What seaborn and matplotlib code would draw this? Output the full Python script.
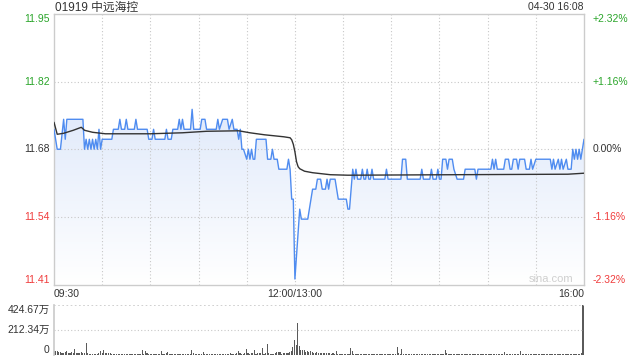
import numpy as np
import pandas as pd
import matplotlib
matplotlib.use("Agg")
import matplotlib.pyplot as plt
import seaborn as sns
from matplotlib.colors import LinearSegmentedColormap

sns.set_theme(style="white")
plt.rcParams["font.family"] = ["Liberation Sans", "Noto Sans CJK SC", "DejaVu Sans"]

# ---------------- data ----------------
title = "01919 中远海控"
stamp = "04-30 16:08"
prev_close = 11.68
range_pct = 2.32

price_t = [0, 2, 4, 6, 7, 8, 18, 19, 20, 21, 22, 23, 24, 25, 26, 27, 28, 29, 30, 36,
           37, 40, 41, 42, 44, 45, 46, 50, 51, 52, 58, 59, 61, 62, 63, 69, 70, 71, 73, 74,
           77, 78, 79, 80, 81, 85, 86, 87, 91, 92, 94, 95, 101, 102, 103, 105, 108, 109, 111, 112,
           114, 115, 116, 117, 118, 120, 121, 122, 123, 124, 125, 126, 132, 133, 135, 136, 137, 139, 140, 145,
           146, 147, 148, 149, 150, 153, 154, 158, 161, 163, 164, 166, 167, 169, 170, 171, 172, 175, 177, 182,
           183, 184, 185, 186, 187, 188, 189, 191, 192, 193, 194, 195, 196, 197, 198, 199, 206, 207, 208, 216,
           217, 219, 220, 228, 229, 230, 234, 235, 236, 238, 239, 240, 241, 242, 244, 245, 246, 248, 249, 251,
           255, 256, 262, 263, 264, 272, 273, 274, 275, 276, 280, 281, 283, 284, 285, 286, 288, 289, 290, 293,
           294, 296, 297, 298, 300, 309, 310, 311, 312, 314, 315, 316, 317, 319, 320, 322, 323, 324, 325, 326,
           327, 328, 329, 330]
price_v = [11.72, 11.68, 11.68, 11.74, 11.70, 11.74, 11.74, 11.68, 11.70, 11.68, 11.70, 11.68, 11.70, 11.68, 11.70, 11.68, 11.72, 11.68, 11.70, 11.70,
           11.72, 11.72, 11.74, 11.72, 11.72, 11.74, 11.72, 11.72, 11.74, 11.72, 11.72, 11.70, 11.70, 11.72, 11.70, 11.70, 11.72, 11.70, 11.70, 11.72,
           11.72, 11.74, 11.72, 11.74, 11.72, 11.72, 11.76, 11.72, 11.72, 11.74, 11.74, 11.72, 11.72, 11.74, 11.72, 11.74, 11.74, 11.72, 11.74, 11.72,
           11.72, 11.70, 11.72, 11.68, 11.68, 11.66, 11.68, 11.66, 11.68, 11.66, 11.66, 11.70, 11.70, 11.66, 11.66, 11.68, 11.66, 11.66, 11.64, 11.64,
           11.66, 11.64, 11.58, 11.58, 11.42, 11.56, 11.54, 11.54, 11.60, 11.60, 11.62, 11.62, 11.60, 11.60, 11.62, 11.60, 11.62, 11.62, 11.58, 11.58,
           11.56, 11.56, 11.60, 11.64, 11.62, 11.64, 11.62, 11.62, 11.64, 11.62, 11.62, 11.64, 11.62, 11.62, 11.64, 11.62, 11.62, 11.64, 11.62, 11.62,
           11.66, 11.66, 11.62, 11.62, 11.64, 11.62, 11.62, 11.64, 11.62, 11.62, 11.64, 11.62, 11.62, 11.66, 11.66, 11.64, 11.66, 11.66, 11.64, 11.62,
           11.62, 11.64, 11.64, 11.62, 11.64, 11.64, 11.66, 11.64, 11.66, 11.64, 11.64, 11.66, 11.66, 11.64, 11.64, 11.66, 11.66, 11.64, 11.66, 11.66,
           11.64, 11.64, 11.66, 11.64, 11.66, 11.66, 11.64, 11.66, 11.64, 11.66, 11.64, 11.66, 11.64, 11.66, 11.64, 11.64, 11.68, 11.66, 11.68, 11.66,
           11.68, 11.66, 11.68, 11.70]

avg_t = [0, 2, 6, 12, 17, 19, 24, 32, 60, 80, 95, 115, 122, 131, 143, 147, 148, 149, 150, 151,
         152, 153, 156, 161, 172, 183, 250, 320, 330]
avg_v = [11.734, 11.710, 11.712, 11.718, 11.724, 11.718, 11.714, 11.711, 11.711, 11.713, 11.716, 11.717, 11.713, 11.709, 11.705, 11.703, 11.699, 11.690, 11.675, 11.655,
         11.645, 11.641, 11.636, 11.633, 11.629, 11.628, 11.629, 11.630, 11.632]

# volume per minute (万股), minute 0..330
vol = [36, 36, 30, 22, 25, 20, 18, 22, 30, 20, 18, 22, 15, 50, 20, 18, 15, 22, 20, 18, 100, 15, 12, 10, 12, 10, 8, 12, 15, 30,
       18, 40, 15, 20, 18, 15, 12, 10, 12, 10, 8, 8, 6, 8, 6, 8, 10, 6, 8, 6, 8, 10, 8, 6, 8, 40, 12, 36, 15, 10,
       12, 10, 8, 10, 12, 8, 10, 30, 12, 10, 15, 25, 12, 10, 8, 10, 8, 6, 8, 10, 8, 6, 8, 10, 8, 12, 42, 15, 10, 12,
       10, 8, 12, 25, 10, 8, 6, 8, 10, 8, 6, 8, 10, 8, 6, 8, 10, 8, 10, 12, 15, 10, 8, 12, 20, 35, 15, 12, 10, 15,
       51, 15, 12, 18, 15, 42, 12, 15, 20, 18, 60, 12, 15, 93, 15, 12, 10, 12, 15, 25, 22, 25, 12, 15, 18, 20, 15, 25, 30, 68,
       127, 85, 274, 76, 42, 40, 42, 25, 30, 28, 30, 22, 20, 18, 22, 20, 18, 20, 18, 15, 20, 18, 15, 12, 15, 10, 34, 12, 10, 8,
       10, 8, 6, 8, 10, 60, 35, 12, 8, 10, 8, 6, 8, 10, 8, 6, 8, 10, 8, 6, 8, 10, 8, 6, 8, 10, 8, 6, 8, 10,
       8, 6, 8, 10, 68, 20, 12, 50, 10, 8, 6, 8, 10, 8, 6, 8, 10, 8, 6, 8, 10, 8, 6, 8, 10, 8, 6, 8, 10, 8,
       6, 8, 10, 8, 40, 15, 8, 6, 8, 10, 8, 6, 8, 10, 8, 6, 8, 10, 8, 6, 8, 10, 8, 6, 8, 10, 8, 6, 8, 10,
       8, 6, 8, 10, 8, 6, 8, 10, 8, 6, 8, 28, 12, 8, 6, 8, 10, 8, 6, 8, 10, 38, 12, 8, 6, 8, 10, 8, 6, 8,
       10, 8, 6, 8, 10, 8, 6, 8, 10, 8, 6, 8, 10, 8, 6, 8, 10, 8, 6, 8, 10, 8, 6, 8, 10, 8, 12, 10, 8, 15,
       424.67]
vol_max = 424.67

time_ticks = [0, 150, 330]
time_labels = ["09:30", "12:00/13:00", "16:00"]
pct_levels = [2.32, 1.16, 0.0, -1.16, -2.32]

# ---------------- styling ----------------
GREEN = "#2aa52a"
RED = "#f03c3c"
DARK = "#333333"
GRID = "#c8c8c8"
BORDER = "#cccccc"
FS = 7.5

W, H = 640, 360
fig = plt.figure(figsize=(6.4, 3.6), dpi=100)
ax = fig.add_axes([54 / W, 75.5 / H, 530 / W, 270.5 / H])
axv = fig.add_axes([54 / W, 5 / H, 530 / W, 50 / H])

ymin = prev_close * (1 - range_pct / 100)
ymax = prev_close * (1 + range_pct / 100)
price_levels = [prev_close * (1 + p / 100) for p in pct_levels]

df = pd.DataFrame({"t": price_t, "p": price_v})
dfa = pd.DataFrame({"t": avg_t, "a": avg_v})

# gradient fill under the price line
poly = ax.fill_between(df["t"], df["p"], ymin, color="none", lw=0)
cmap = LinearSegmentedColormap.from_list("g", ["#ffffff", "#e2ebfb"])
grad = np.linspace(0, 1, 256).reshape(-1, 1)
im = ax.imshow(grad, extent=[0, 330, ymin, 11.74], origin="lower", aspect="auto",
               cmap=cmap, zorder=1, interpolation="bilinear")
im.set_clip_path(poly.get_paths()[0], transform=ax.transData)

sns.lineplot(data=df, x="t", y="p", ax=ax, color="#4f8cf0", lw=1.0, zorder=3,
             estimator=None, sort=False)
sns.lineplot(data=dfa, x="t", y="a", ax=ax, color="#333333", lw=1.0, zorder=4,
             estimator=None, sort=False)

ax.set_xlim(0, 330)
ax.set_ylim(ymin, ymax)
for lv in price_levels[1:-1]:
    ax.axhline(lv, color=GRID, lw=0.8, ls=(0, (1, 2)), zorder=2)
for tv in range(30, 330, 30):
    ax.axvline(tv, color=GRID, lw=0.8, ls=(0, (1, 2)), zorder=2)

for s in ax.spines.values():
    s.set_color(BORDER)
    s.set_linewidth(1.0)
ax.set_xlabel("")
ax.set_ylabel("")

ax.set_xticks(time_ticks)
ax.set_xticklabels(time_labels)
ax.tick_params(axis="x", length=0, pad=3, labelsize=FS, labelcolor=DARK)
for lab, ha in zip(ax.get_xticklabels(), ["left", "center", "right"]):
    lab.set_ha(ha)

ax.set_yticks(price_levels)
ax.set_yticklabels([f"{v:.2f}" for v in price_levels])
ax.tick_params(axis="y", length=0, pad=3, labelsize=FS)

ax2 = ax.twinx()
ax2.set_ylim(ymin, ymax)
ax2.set_yticks(price_levels)
ax2.set_yticklabels([("+" if p > 0 else "") + f"{p:.2f}%" for p in pct_levels])
ax2.tick_params(axis="y", length=0, pad=6, labelsize=FS)
for s in ax2.spines.values():
    s.set_visible(False)

colors = [GREEN, GREEN, DARK, RED, RED]
vas = ["top", "center", "center", "center", "bottom"]
for labs in (ax.get_yticklabels(), ax2.get_yticklabels()):
    for lab, c, va in zip(labs, colors, vas):
        lab.set_color(c)
        lab.set_va(va)

# volume panel
axv.bar(np.arange(len(vol)), vol, width=0.7, color="#5a5a5a", linewidth=0)
axv.set_xlim(0, 330.6)
axv.set_ylim(0, vol_max)
axv.axhline(vol_max / 2, color=GRID, lw=0.8, ls=(0, (1, 2)))
axv.axhline(vol_max, color=GRID, lw=1.2, ls=(0, (1, 1.5)))
for k, s in axv.spines.items():
    s.set_visible(k == "left")
    s.set_color(BORDER)
axv.set_xticks([])
axv.set_yticks([0, vol_max / 2, vol_max])
axv.set_yticklabels(["0", f"{vol_max / 2:.2f}万", f"{vol_max:.2f}万"])
axv.tick_params(axis="y", length=0, pad=3, labelsize=FS, labelcolor=DARK)
for lab, va in zip(axv.get_yticklabels(), ["bottom", "center", "top"]):
    lab.set_va(va)

fig.text(55 / W, 1 - 7.5 / H, title, fontsize=8.5, color=DARK, va="center", ha="left")
fig.text(584 / W, 1 - 7.5 / H, stamp, fontsize=FS, color=DARK, va="center", ha="right")
fig.text(573 / W, 1 - 279.5 / H, "sina.com", fontsize=8, color="#cfcfcf", va="center", ha="right")

fig.savefig("out.png", dpi=100)
